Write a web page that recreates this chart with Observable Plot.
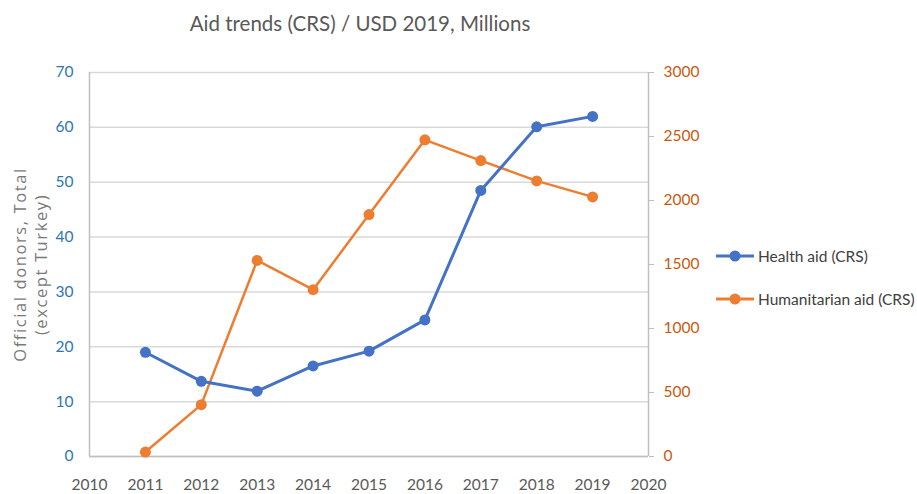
<!DOCTYPE html>
<html>
<head>
<meta charset="utf-8">
<script src="https://cdn.jsdelivr.net/npm/d3@7"></script>
<script src="https://cdn.jsdelivr.net/npm/@observablehq/plot@0.6"></script>
<style>
  body { margin: 0; background: #fff; }
  #wrap { position: relative; width: 917px; height: 494px; overflow: hidden; }
  #title { position: absolute; left: 0; top: 11px; width: 720px; text-align: center;
           font-family: Lato, sans-serif; font-size: 20.5px; color: #595959; }
  #chart { position: absolute; left: 0; top: 50px; }
  .leg { position: absolute; left: 716px; font-family: Lato, sans-serif; font-size: 15.5px; color: #404040; display: flex; align-items: center; white-space: nowrap; }
  .leg svg { margin-right: 4px; }
</style>
</head>
<body>
<div id="wrap">
  <div id="title">Aid trends (CRS) / USD 2019, Millions</div>
  <div id="chart"></div>
  <div class="leg" style="top:247px"><svg width="38" height="14"><line x1="0" x2="38" y1="7" y2="7" stroke="#4472C4" stroke-width="3"/><circle cx="19" cy="7" r="5.5" fill="#4472C4"/></svg>Health aid (CRS)</div>
  <div class="leg" style="top:290px"><svg width="38" height="14"><line x1="0" x2="38" y1="7" y2="7" stroke="#ED7D31" stroke-width="3"/><circle cx="19" cy="7" r="5.5" fill="#ED7D31"/></svg>Humanitarian aid (CRS)</div>
</div>
<script>
const years = [2011, 2012, 2013, 2014, 2015, 2016, 2017, 2018, 2019];
const healthAid = [19.0, 13.7, 11.9, 16.5, 19.2, 24.9, 48.5, 60.1, 62.0];
const humanitarianAid = [35, 405, 1532, 1303, 1890, 2474, 2312, 2153, 2028];
const xTicks = [2010, 2011, 2012, 2013, 2014, 2015, 2016, 2017, 2018, 2019, 2020];
const leftTicks = [0, 10, 20, 30, 40, 50, 60, 70];
const rightTicks = [0, 500, 1000, 1500, 2000, 2500, 3000];
const leftMax = 70, rightMax = 3000;
const toLeft = v => v * leftMax / rightMax;

const health = years.map((y, i) => ({year: y, value: healthAid[i]}));
const human = years.map((y, i) => ({year: y, value: toLeft(humanitarianAid[i])}));

const chart = Plot.plot({
  width: 917,
  height: 444,
  marginTop: 22,
  marginBottom: 38,
  marginLeft: 89,
  marginRight: 269,
  style: {fontFamily: "Lato, sans-serif", fontSize: "15.5px", background: "white"},
  x: {domain: [2010, 2020], axis: null},
  y: {domain: [0, leftMax], axis: null},
  marks: [
    Plot.ruleY(leftTicks, {stroke: "#d9d9d9", strokeWidth: 1.5}),
    Plot.ruleX([2010, 2020], {stroke: "#bfbfbf", strokeWidth: 1.5}),
    Plot.ruleY([0], {stroke: "#bfbfbf", strokeWidth: 1.5}),
    Plot.axisX(xTicks, {tickSize: 0, tickPadding: 22, tickFormat: d => String(d), fill: "#595959", fontSize: 15.5, label: null}),
    Plot.axisY(leftTicks, {anchor: "left", tickSize: 0, tickPadding: 16, fill: "#2E75B6", fontSize: 15.5, label: null}),
    Plot.axisY(rightTicks.map(toLeft), {anchor: "right", tickSize: 5, tickPadding: 10, stroke: "#bfbfbf", fill: "#C55A11", fontSize: 15.5, label: null, tickFormat: d => String(Math.round(d * rightMax / leftMax))}),
    Plot.text(["Official donors, Total\n(except Turkey)"], {frameAnchor: "left", dx: -60, rotate: -90, textAnchor: "middle", lineAnchor: "middle", lineHeight: 1.3, fill: "#7a7a7a", fontSize: 16.5, fontFamily: "'Open Sans', sans-serif", className: "ylabel"}),
    Plot.line(human, {x: "year", y: "value", stroke: "#ED7D31", strokeWidth: 2.5}),
    Plot.dot(human, {x: "year", y: "value", fill: "#ED7D31", r: 5.5}),
    Plot.line(health, {x: "year", y: "value", stroke: "#4472C4", strokeWidth: 3}),
    Plot.dot(health, {x: "year", y: "value", fill: "#4472C4", r: 5.5})
  ]
});
d3.select(chart).selectAll("text")
  .filter(function() { return this.textContent.startsWith("Official"); })
  .style("letter-spacing", "1.6px");
document.getElementById("chart").appendChild(chart);
</script>
</body>
</html>
